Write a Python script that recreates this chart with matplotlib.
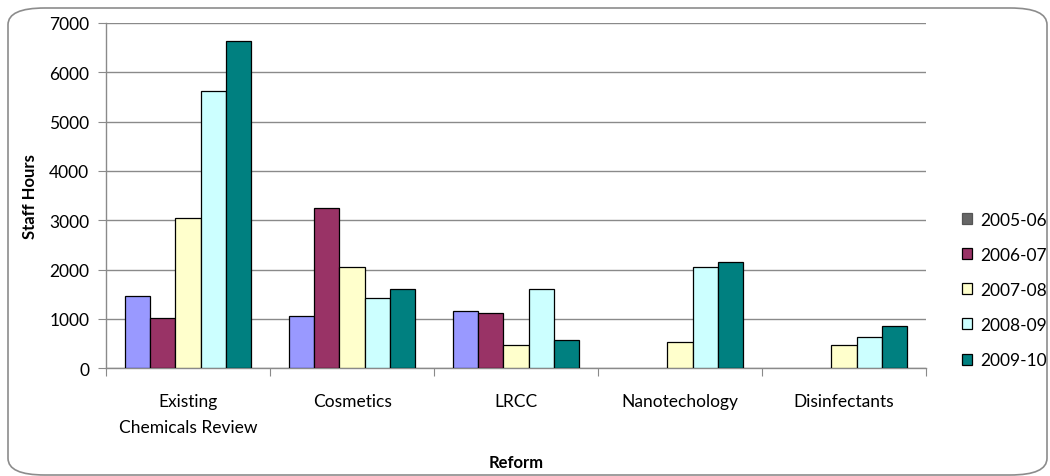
import numpy as np
import matplotlib
matplotlib.use('Agg')
import matplotlib.pyplot as plt
from matplotlib.patches import FancyBboxPatch

plt.rcParams['font.family'] = ['Lato', 'DejaVu Sans']

# dados: horas de equipe por reforma e por ano (nan = sem registro)
reformas = ['Existing\nChemicals Review', 'Cosmetics', 'LRCC', 'Nanotechology', 'Disinfectants']
anos = ['2005-06', '2006-07', '2007-08', '2008-09', '2009-10']
h_2005_06 = [1470, 1050, 1155, np.nan, np.nan]
h_2006_07 = [1015, 3245, 1120, np.nan, np.nan]
h_2007_08 = [3040, 2050, 480, 540, 480]
h_2008_09 = [5620, 1420, 1600, 2050, 635]
h_2009_10 = [6640, 1600, 570, 2150, 865]
series = [h_2005_06, h_2006_07, h_2007_08, h_2008_09, h_2009_10]

cores = ['#9999FF', '#993366', '#FFFFCC', '#CCFFFF', '#008080']

fig = plt.figure(figsize=(10.5, 4.77), dpi=100)
ax = fig.add_axes([0.101, 0.2258, 0.781, 0.724])

# moldura arredondada em volta do grafico
moldura = FancyBboxPatch((8 / 1050, 1 - 476 / 477), 1039 / 1050, 467 / 477,
                         boxstyle='round,pad=0,rounding_size=0.035',
                         transform=fig.transFigure, facecolor='none',
                         edgecolor='#8c8c8c', linewidth=1.2, zorder=0)
fig.patches.append(moldura)

x = np.arange(len(reformas))
largura = 1 / 6.5
for i, (valores, cor) in enumerate(zip(series, cores)):
    pos = x + (i - 2) * largura
    ax.bar(pos, valores, width=largura, color=cor, edgecolor='black',
           linewidth=0.9, label=anos[i], zorder=3)

ax.set_xlim(-0.5, len(reformas) - 0.5)
ax.set_ylim(0, 7000)
ax.set_yticks(range(0, 7001, 1000))
ax.grid(axis='y', color='#8a8a8a', linewidth=1, zorder=0)

# marcas do eixo x nas divisas, rotulos no centro das categorias
ax.set_xticks(np.arange(-0.5, len(reformas)), minor=False)
ax.set_xticklabels([])
ax.set_xticks(x, minor=True)
ax.set_xticklabels(reformas, minor=True, fontsize=12.5, linespacing=1.75)
ax.tick_params(axis='x', which='major', length=6, color='#8a8a8a', direction='out')
ax.tick_params(axis='x', which='minor', length=0, pad=18)
ax.tick_params(axis='y', length=6, color='#8a8a8a', labelsize=12.5, pad=6)

for lado in ['top', 'right']:
    ax.spines[lado].set_visible(False)
for lado in ['left', 'bottom']:
    ax.spines[lado].set_color('#8a8a8a')
    ax.spines[lado].set_linewidth(1)

ax.set_ylabel('Staff Hours', fontsize=12, fontweight='bold', va='center')
ax.yaxis.set_label_coords(-0.0927, 0.5)
ax.set_xlabel('Reform', fontsize=12, fontweight='bold', va='center')
ax.xaxis.set_label_coords(0.5, -0.271)

leg = fig.legend(loc='center left', bbox_to_anchor=(946 / 1050, 1 - 291 / 477),
                 frameon=False, fontsize=12.5, handlelength=0.6, handleheight=0.6,
                 handletextpad=0.45, labelspacing=1.1)
# a legenda do primeiro ano aparece em cinza
leg.legend_handles[0].set_facecolor('#666666')
leg.legend_handles[0].set_edgecolor('#555555')

plt.savefig('out.png', dpi=100)
